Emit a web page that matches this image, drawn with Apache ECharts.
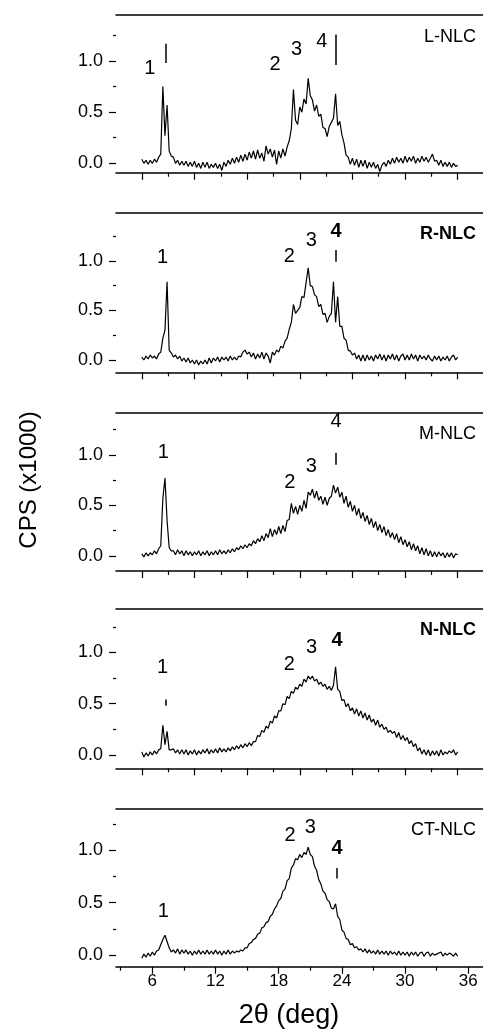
<!DOCTYPE html>
<html>
<head>
<meta charset="utf-8">
<script src="https://cdn.jsdelivr.net/npm/echarts@6/dist/echarts.min.js"></script>
<style>
  html, body { margin: 0; padding: 0; background: #fff; }
  #chart { width: 483px; height: 1032px; }
</style>
</head>
<body>
<div id="chart"></div>
<script>
// 2theta sampling (deg)
const twoTheta = [
  5.0,5.2,5.4,5.6,5.8, 6.0,6.2,6.4,6.6,6.8, 7.0,7.2,7.4,7.6,7.8, 8.0,8.2,8.4,8.6,8.8,
  9.0,9.2,9.4,9.6,9.8, 10.0,10.2,10.4,10.6,10.8, 11.0,11.2,11.4,11.6,11.8, 12.0,12.2,12.4,12.6,12.8,
  13.0,13.2,13.4,13.6,13.8, 14.0,14.2,14.4,14.6,14.8, 15.0,15.2,15.4,15.6,15.8, 16.0,16.2,16.4,16.6,16.8,
  17.0,17.2,17.4,17.6,17.8, 18.0,18.2,18.4,18.6,18.8, 19.0,19.2,19.4,19.6,19.8, 20.0,20.2,20.4,20.6,20.8,
  21.0,21.2,21.4,21.6,21.8, 22.0,22.2,22.4,22.6,22.8, 23.0,23.2,23.4,23.6,23.8, 24.0,24.2,24.4,24.6,24.8,
  25.0,25.2,25.4,25.6,25.8, 26.0,26.2,26.4,26.6,26.8, 27.0,27.2,27.4,27.6,27.8, 28.0,28.2,28.4,28.6,28.8,
  29.0,29.2,29.4,29.6,29.8, 30.0,30.2,30.4,30.6,30.8, 31.0,31.2,31.4,31.6,31.8, 32.0,32.2,32.4,32.6,32.8,
  33.0,33.2,33.4,33.6,33.8, 34.0,34.2,34.4,34.6,34.8, 35.0
];

// CPS (x1000) per sample
const lNlc = [
  0.04,0.00,0.03,-0.01,0.03, 0.00,0.04,0.01,0.06,0.09, 0.75,0.27,0.57,0.12,0.07, 0.06,0.00,0.03,-0.02,0.02,
  -0.02,0.02,-0.03,0.01,-0.03, 0.02,-0.04,0.00,-0.05,0.01, -0.04,0.01,-0.05,-0.01,-0.04, 0.00,-0.05,-0.01,-0.07,0.01,
  -0.03,0.03,-0.01,0.05,0.00, 0.06,0.01,0.08,0.02,0.09, 0.03,0.11,0.05,0.12,0.04, 0.13,0.05,0.10,0.02,0.17,
  0.09,0.14,0.06,0.13,-0.01, 0.12,0.05,0.14,0.07,0.16, 0.22,0.34,0.72,0.42,0.38, 0.55,0.50,0.63,0.58,0.83,
  0.66,0.62,0.51,0.57,0.46, 0.48,0.35,0.34,0.26,0.36, 0.40,0.44,0.68,0.37,0.41, 0.28,0.20,0.08,0.06,-0.01,
  0.05,-0.02,0.04,-0.04,0.03, -0.03,0.03,-0.05,0.01,-0.04, 0.01,-0.05,-0.01,-0.08,-0.02, 0.01,-0.03,0.03,-0.01,0.05,
  0.00,0.06,0.01,0.05,0.00, 0.07,0.01,0.06,0.02,0.07, 0.00,0.05,0.01,0.07,0.02, 0.06,0.01,0.05,0.09,0.02,
  0.03,-0.02,0.03,-0.03,0.01, -0.03,0.01,-0.04,0.00,-0.03, -0.02
];
const rNlc = [
  0.03,0.00,0.04,0.01,0.05, 0.02,0.04,0.01,0.06,0.08, 0.22,0.30,0.79,0.10,0.07, 0.03,0.05,0.01,0.04,-0.01,
  0.02,-0.02,0.02,-0.03,0.00, -0.04,0.00,-0.05,-0.01,-0.04, 0.00,-0.04,0.02,-0.03,0.02, -0.01,0.03,-0.02,0.03,0.00,
  0.03,-0.01,0.04,0.00,0.03, 0.00,0.04,0.03,0.08,0.10, 0.06,0.08,0.03,0.07,0.01, 0.06,0.02,0.08,0.01,0.07,
  0.04,-0.03,0.08,0.05,0.10, 0.08,0.14,0.12,0.19,0.22, 0.31,0.38,0.56,0.47,0.50, 0.53,0.64,0.63,0.78,0.93,
  0.75,0.74,0.66,0.64,0.54, 0.56,0.46,0.47,0.38,0.44, 0.47,0.79,0.38,0.64,0.34, 0.34,0.22,0.20,0.10,0.09,
  0.05,0.07,0.01,0.05,-0.01, 0.05,-0.01,0.05,0.00,0.04, -0.01,0.05,0.01,0.06,0.00, 0.05,-0.01,0.05,0.01,0.06,
  0.00,0.05,-0.01,0.04,0.06, 0.00,0.05,0.00,0.06,0.01, 0.05,-0.01,0.05,0.01,0.04, 0.00,0.05,0.01,-0.01,0.04,
  0.00,0.04,-0.01,0.03,0.00, 0.04,-0.01,0.03,0.05,0.00, 0.03
];
const mNlc = [
  0.02,-0.01,0.03,0.00,0.03, 0.01,0.05,0.02,0.07,0.10, 0.57,0.77,0.35,0.08,0.05, 0.05,0.01,0.06,0.02,0.05,
  0.00,0.05,0.01,0.04,0.00, 0.04,0.01,0.05,0.00,0.04, 0.01,0.05,0.00,0.04,0.01, 0.05,0.01,0.06,0.02,0.05,
  0.02,0.06,0.03,0.07,0.04, 0.08,0.06,0.10,0.07,0.11, 0.08,0.12,0.10,0.15,0.12, 0.17,0.14,0.20,0.15,0.22,
  0.18,0.27,0.19,0.26,0.21, 0.29,0.22,0.30,0.24,0.35, 0.36,0.52,0.42,0.49,0.41, 0.50,0.44,0.55,0.47,0.63,
  0.60,0.66,0.57,0.64,0.55, 0.59,0.51,0.58,0.50,0.57, 0.59,0.70,0.62,0.68,0.58, 0.63,0.52,0.59,0.48,0.54,
  0.44,0.50,0.40,0.47,0.37, 0.43,0.34,0.40,0.31,0.37, 0.28,0.34,0.25,0.31,0.23, 0.29,0.20,0.26,0.18,0.23,
  0.16,0.22,0.13,0.19,0.11, 0.16,0.09,0.14,0.06,0.12, 0.05,0.10,0.02,0.08,0.01, 0.07,0.00,0.05,-0.01,0.04,
  -0.01,0.04,0.00,0.03,-0.02, 0.03,-0.01,0.03,-0.02,0.02, 0.01
];
const nNlc = [
  0.03,-0.02,0.02,-0.01,0.03, 0.00,0.04,0.01,0.05,0.06, 0.29,0.10,0.23,0.05,0.05, 0.06,0.02,0.05,0.01,0.05,
  0.01,0.05,0.00,0.04,0.01, 0.05,0.00,0.04,0.01,0.05, 0.02,0.06,0.01,0.05,0.02, 0.06,0.02,0.07,0.03,0.06,
  0.03,0.07,0.04,0.08,0.05, 0.09,0.06,0.10,0.07,0.11, 0.08,0.12,0.09,0.13,0.13, 0.19,0.18,0.24,0.22,0.28,
  0.26,0.33,0.31,0.38,0.36, 0.43,0.43,0.50,0.49,0.57, 0.55,0.62,0.60,0.66,0.64, 0.69,0.67,0.74,0.71,0.77,
  0.74,0.77,0.72,0.74,0.69, 0.71,0.67,0.69,0.64,0.67, 0.63,0.68,0.86,0.64,0.62, 0.53,0.54,0.47,0.50,0.43,
  0.46,0.40,0.45,0.38,0.43, 0.36,0.41,0.34,0.39,0.32, 0.35,0.29,0.34,0.27,0.30, 0.25,0.27,0.22,0.24,0.21,
  0.23,0.17,0.22,0.15,0.19, 0.14,0.17,0.11,0.14,0.08, 0.11,0.04,0.07,0.01,0.05, 0.00,0.05,-0.01,0.04,0.00,
  0.04,-0.01,0.05,0.00,0.03, 0.01,0.04,0.02,0.05,0.00, 0.03
];
const ctNlc = [
  -0.03,0.01,-0.02,0.02,-0.01, 0.03,0.00,0.04,0.05,0.10, 0.15,0.19,0.13,0.07,0.03, 0.05,0.02,0.06,0.01,0.05,
  0.02,0.05,0.01,0.04,0.00, 0.04,0.01,0.05,0.01,0.04, 0.01,0.05,0.01,0.04,0.01, 0.05,0.01,0.04,0.00,0.04,
  0.01,0.05,0.01,0.04,0.02, 0.04,0.03,0.05,0.04,0.07, 0.07,0.11,0.12,0.15,0.16, 0.20,0.21,0.26,0.27,0.31,
  0.32,0.37,0.39,0.44,0.47, 0.52,0.54,0.61,0.63,0.71, 0.73,0.83,0.86,0.92,0.91, 0.96,0.93,0.98,0.96,1.03,
  0.96,0.94,0.85,0.81,0.72, 0.68,0.61,0.59,0.53,0.51, 0.45,0.44,0.49,0.37,0.34, 0.24,0.22,0.16,0.15,0.10,
  0.11,0.07,0.08,0.05,0.06, 0.03,0.06,0.02,0.05,0.02, 0.04,0.01,0.05,0.01,0.04, 0.01,0.04,0.00,0.04,0.01,
  0.03,0.00,0.04,0.00,0.03, 0.00,0.03,-0.01,0.03,0.00, 0.03,-0.01,0.02,0.03,-0.01, 0.02,0.03,-0.01,0.02,0.00,
  0.01,0.02,0.03,-0.01,0.02, 0.00,0.02,0.01,-0.01,0.02, -0.01
];

// peak numbers [2theta, cps, text] and marker bars [2theta, from, to]
const lNlcPeaks = [[5.75, 0.93, '1'], [17.66, 0.97, '2'], [19.7, 1.11, '3'], [22.1, 1.19, '4']];
const lNlcBars = [[7.27, 0.98, 1.17], [23.44, 0.96, 1.26]];
const rNlcPeaks = [[6.98, 1.03, '1'], [19.0, 1.04, '2'], [21.1, 1.21, '3'], [23.45, 1.30, '4']];
const rNlcBars = [[23.42, 0.99, 1.11]];
const mNlcPeaks = [[7.04, 1.02, '1'], [19.05, 0.73, '2'], [21.1, 0.88, '3'], [23.45, 1.33, '4']];
const mNlcBars = [[23.42, 0.90, 1.02]];
const nNlcPeaks = [[6.98, 0.85, '1'], [19.0, 0.88, '2'], [21.12, 1.05, '3'], [23.55, 1.12, '4']];
const nNlcBars = [[7.25, 0.48, 0.54]];
const ctNlcPeaks = [[7.04, 0.42, '1'], [19.08, 1.14, '2'], [21.0, 1.22, '3'], [23.55, 1.02, '4']];
const ctNlcBars = [[23.5, 0.73, 0.83]];

// ticks
const yMajor = [0, 0.5, 1.0];
const yMinor = [0.25, 0.75, 1.25];
const xMajorTop = [5, 10, 15, 20, 25, 30, 35];
const xMinorTop = [7.5, 12.5, 17.5, 22.5, 27.5, 32.5];
const xMajorBottom = [6, 12, 18, 24, 30, 36];
const xMinorBottom = [3, 9, 15, 21, 27, 33];

const FONT = '"Liberation Sans", Arial, sans-serif';
const X_MIN = 2.55, X_MAX = 37.4;

const panels = [
  { name: 'L-NLC', values: lNlc, peaks: lNlcPeaks, bars: lNlcBars, top: 15, height: 157.7, yMin: -0.092, yMax: 1.45, boldName: false, boldFour: false },
  { name: 'R-NLC', values: rNlc, peaks: rNlcPeaks, bars: rNlcBars, top: 212.3, height: 160, yMin: -0.124, yMax: 1.49, boldName: true, boldFour: true },
  { name: 'M-NLC', values: mNlc, peaks: mNlcPeaks, bars: mNlcBars, top: 412.3, height: 158.7, yMin: -0.15, yMax: 1.42, boldName: false, boldFour: false },
  { name: 'N-NLC', values: nNlc, peaks: nNlcPeaks, bars: nNlcBars, top: 608.3, height: 160, yMin: -0.13, yMax: 1.43, boldName: true, boldFour: true },
  { name: 'CT-NLC', values: ctNlc, peaks: ctNlcPeaks, bars: ctNlcBars, top: 808.3, height: 158.4, yMin: -0.11, yMax: 1.40, boldName: false, boldFour: true }
];

const chart = echarts.init(document.getElementById('chart'));

const grids = [], xAxes = [], yAxes = [], series = [], graphics = [];

panels.forEach((p, i) => {
  const last = i === panels.length - 1;
  grids.push({ left: 116, right: 0, top: p.top, height: p.height });

  // bottom axis with major ticks
  xAxes.push({
    type: 'value', gridIndex: i, min: X_MIN, max: X_MAX, position: 'bottom',
    axisLine: { onZero: false, lineStyle: { color: '#000', width: 1.5 } },
    axisTick: { show: true, length: 7, customValues: last ? xMajorBottom : xMajorTop, lineStyle: { color: '#000', width: 1.2 } },
    axisLabel: { show: last, customValues: xMajorBottom, margin: 6, fontSize: 17, color: '#000', fontFamily: FONT },
    splitLine: { show: false }
  });
  // minor ticks
  xAxes.push({
    type: 'value', gridIndex: i, min: X_MIN, max: X_MAX, position: 'bottom',
    axisLine: { show: false, onZero: false },
    axisTick: { show: true, length: 4, customValues: last ? xMinorBottom : xMinorTop, lineStyle: { color: '#000', width: 1.2 } },
    axisLabel: { show: false },
    splitLine: { show: false }
  });
  // top frame line
  xAxes.push({
    type: 'value', gridIndex: i, min: X_MIN, max: X_MAX, position: 'top',
    axisLine: { onZero: false, lineStyle: { color: '#000', width: 1.5 } },
    axisTick: { show: false },
    axisLabel: { show: false },
    splitLine: { show: false }
  });

  yAxes.push({
    type: 'value', gridIndex: i, min: p.yMin, max: p.yMax, position: 'left',
    axisLine: { show: false },
    axisTick: { show: true, length: 7, customValues: yMajor, lineStyle: { color: '#000', width: 1.2 } },
    axisLabel: { customValues: yMajor, formatter: v => v.toFixed(1), margin: 13, fontSize: 18, color: '#000', fontFamily: FONT },
    splitLine: { show: false }
  });
  yAxes.push({
    type: 'value', gridIndex: i, min: p.yMin, max: p.yMax, position: 'left',
    axisLine: { show: false },
    axisTick: { show: true, length: 3, customValues: yMinor, lineStyle: { color: '#000', width: 1.2 } },
    axisLabel: { show: false },
    splitLine: { show: false }
  });

  series.push({
    type: 'line', xAxisIndex: i * 3, yAxisIndex: i * 2,
    data: twoTheta.map((x, k) => [x, p.values[k]]),
    showSymbol: false, symbol: 'none',
    lineStyle: { color: '#000', width: 1.2 },
    z: 3
  });

  series.push({
    type: 'scatter', xAxisIndex: i * 3, yAxisIndex: i * 2,
    symbolSize: 1,
    itemStyle: { color: '#fff', opacity: 0 },
    data: p.peaks.map(pk => ({
      value: [pk[0], pk[1]], name: pk[2],
      label: { fontWeight: (p.boldFour && pk[2] === '4') ? 'bold' : 'normal' }
    })),
    label: {
      show: true, position: 'inside', formatter: '{b}', fontSize: 20,
      color: '#000', opacity: 1, textBorderWidth: 0, fontFamily: FONT
    },
    markLine: {
      silent: true, symbol: ['none', 'none'],
      label: { show: false },
      lineStyle: { color: '#000', width: 1.5, type: 'solid' },
      data: p.bars.map(b => [{ coord: [b[0], b[1]] }, { coord: [b[0], b[2]] }])
    }
  });

  graphics.push({
    type: 'text',
    style: {
      text: p.name, x: 476, y: p.top + 22,
      align: 'right', verticalAlign: 'middle', textAlign: 'right', textVerticalAlign: 'middle',
      font: (p.boldName ? 'bold ' : '') + '18px ' + FONT, fill: '#000'
    }
  });
});

graphics.push({
  type: 'text', x: 29, y: 480, rotation: Math.PI / 2,
  style: {
    text: 'CPS (x1000)', x: 0, y: 0,
    align: 'center', verticalAlign: 'middle', textAlign: 'center', textVerticalAlign: 'middle',
    font: '24px ' + FONT, fill: '#000'
  }
});
graphics.push({
  type: 'text',
  style: {
    text: '2\u03b8 (deg)', x: 289, y: 1016,
    align: 'center', verticalAlign: 'middle', textAlign: 'center', textVerticalAlign: 'middle',
    font: '27px ' + FONT, fill: '#000'
  }
});

const option = {
  animation: false,
  backgroundColor: '#fff',
  grid: grids,
  xAxis: xAxes,
  yAxis: yAxes,
  series: series,
  graphic: graphics
};

chart.setOption(option);
</script>
</body>
</html>
